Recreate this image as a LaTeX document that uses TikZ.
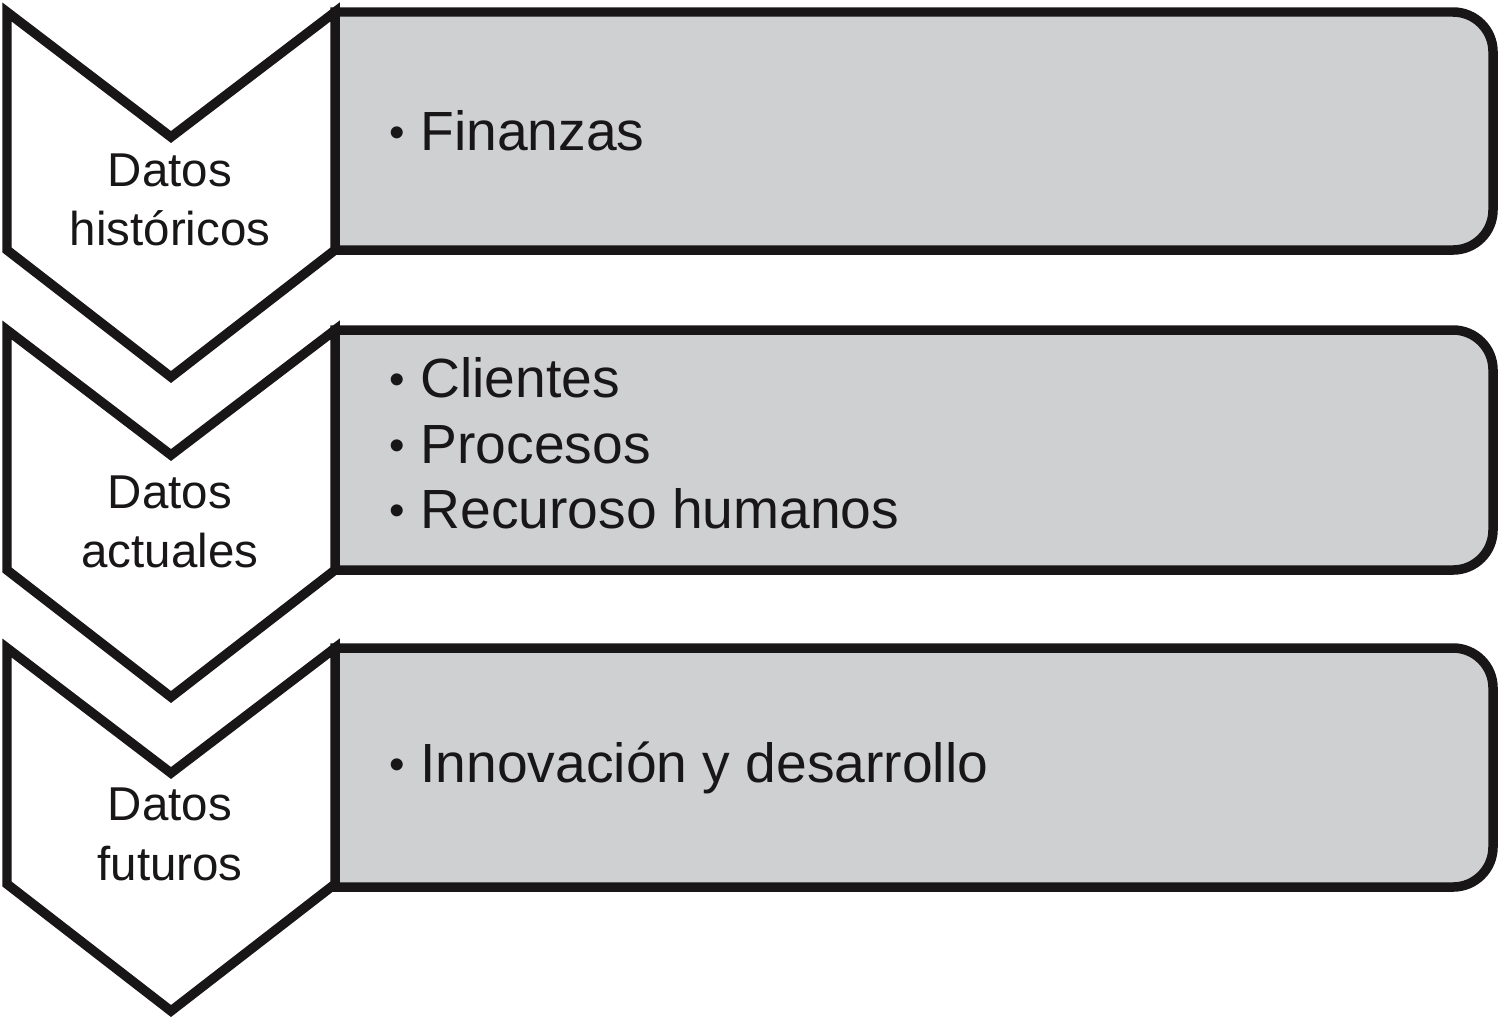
\documentclass[tikz,border=0pt]{standalone}
\usepackage{fontspec}
\usepackage{graphicx}
\setmainfont{Liberation Sans}
\definecolor{panelgray}{RGB}{206,208,210}
\definecolor{inkblack}{RGB}{24,22,22}
\newcommand{\itembul}{\raisebox{0.05em}{\scalebox{0.8}{\textbullet}}\ }
\begin{document}
\begin{tikzpicture}[x=0.01cm,y=-0.01cm,
  outline/.style={line width=2.7pt, line join=miter, draw=inkblack},
  chev/.style={outline, fill=white},
  panel/.style={outline, fill=panelgray},
  lbl/.style={font=\fontsize{13.5}{17}\selectfont, align=center, inner sep=0pt, text=inkblack},
  item/.style={font=\fontsize{15.7}{18.8}\selectfont, anchor=base west, inner sep=0pt, text=inkblack}]
\useasboundingbox (0,0) rectangle (1500,1024);
% panels
\foreach \t/\b in {12/250, 330/570, 648/887}{
  \draw[panel] (335,\t) -- (1453,\t) arc[start angle=90, end angle=0, radius=0.4cm]
    -- (1493,\b-40) arc[start angle=0, end angle=-90, radius=0.4cm] -- (335,\b) -- cycle;
}
% chevrons
\foreach \t/\b in {12/250, 330/570, 648/884}{
  \draw[chev] (7,\t) -- (171,\t+125) -- (335,\t) -- (335,\b) -- (171,\b+127) -- (7,\b) -- cycle;
}
% labels
\node[lbl] (hist) at (170,200) {Datos\\históricos};
\node[lbl] (act) at (170,522) {Datos\\actuales};
\node[lbl] (fut) at (170,834) {Datos\\futuros};
% items
\node[item] (fin) at (389,150) {\itembul Finanzas};
\node[item] (cli) at (389,397) {\itembul Clientes};
\node[item] (pro) at (389,463) {\itembul Procesos};
\node[item] (rec) at (389,528) {\itembul Recuroso humanos};
\node[item] (inn) at (389,782) {\itembul Innovación y desarrollo};
\end{tikzpicture}
\end{document}
